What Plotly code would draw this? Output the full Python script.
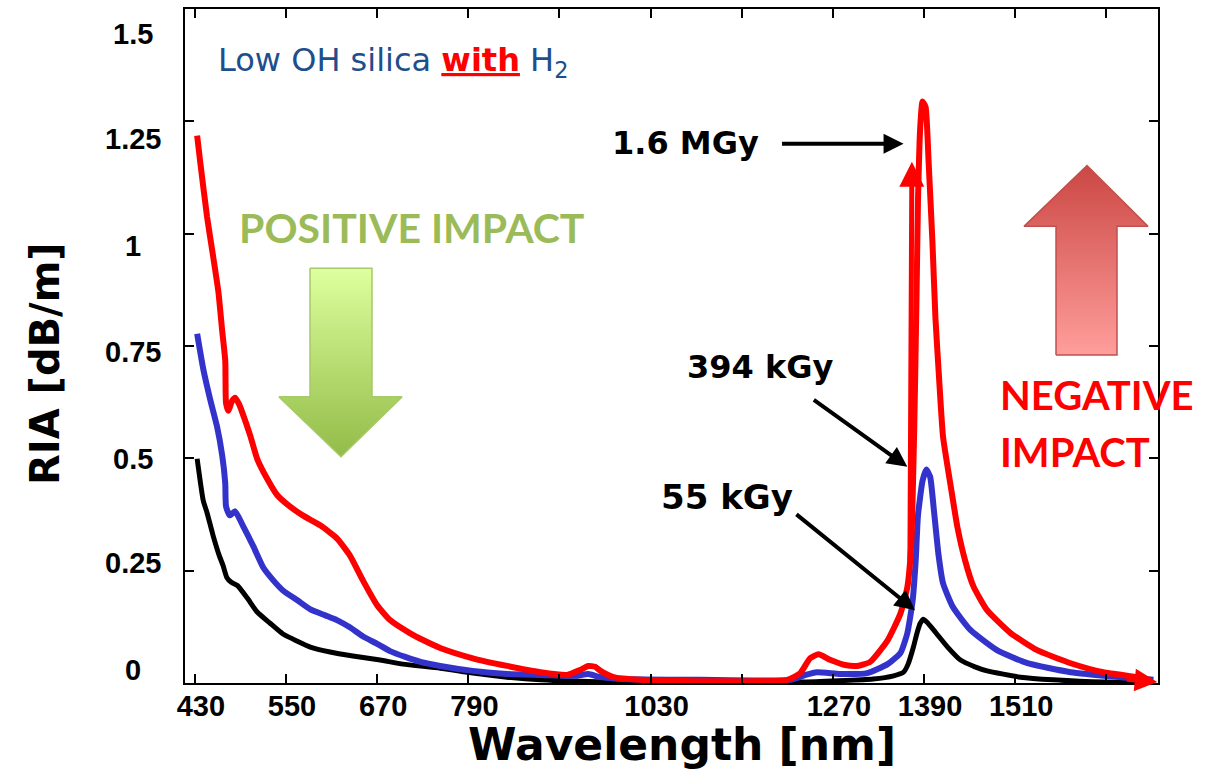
import plotly.graph_objects as go

# ---------------- data ----------------
wl_55k = [433, 441, 446, 454, 462, 467, 472, 478, 486, 499, 512, 529, 546, 565, 582, 608, 638, 674, 704, 753,
          796, 841, 885, 973, 1095, 1227, 1323, 1350, 1363, 1369, 1376, 1381, 1385, 1389, 1394, 1405, 1421, 1438,
          1457, 1473, 1517, 1560, 1626, 1675]
ria_55k = [0.499, 0.406, 0.379, 0.328, 0.284, 0.262, 0.235, 0.224, 0.217, 0.189, 0.158, 0.133, 0.109, 0.093,
           0.080, 0.069, 0.060, 0.051, 0.042, 0.033, 0.022, 0.013, 0.007, 0.002, 0.002, 0.002, 0.009, 0.016,
           0.024, 0.042, 0.080, 0.113, 0.133, 0.142, 0.135, 0.113, 0.080, 0.051, 0.036, 0.027, 0.013, 0.007,
           0.002, 0.002]

wl_394k = [433, 441, 450, 459, 466, 470, 471, 476, 483, 493, 507, 520, 533, 546, 565, 582, 601, 617, 634, 651,
           670, 687, 707, 727, 753, 796, 841, 885, 931, 948, 964, 990, 1095, 1214, 1234, 1249, 1280, 1315, 1342,
           1359, 1368, 1375, 1379, 1382, 1388, 1393, 1398, 1403, 1409, 1415, 1428, 1451, 1486, 1526, 1583, 1648,
           1692]
ria_394k = [0.777, 0.699, 0.632, 0.572, 0.506, 0.444, 0.393, 0.373, 0.382, 0.351, 0.304, 0.257, 0.229, 0.206,
            0.184, 0.164, 0.151, 0.140, 0.124, 0.104, 0.087, 0.071, 0.058, 0.047, 0.038, 0.027, 0.020, 0.018,
            0.016, 0.020, 0.013, 0.009, 0.007, 0.007, 0.018, 0.024, 0.020, 0.022, 0.042, 0.067, 0.111, 0.184,
            0.273, 0.373, 0.450, 0.475, 0.459, 0.384, 0.286, 0.222, 0.169, 0.118, 0.073, 0.044, 0.024, 0.013,
            0.007]

wl_16M = [433, 437, 446, 454, 461, 466, 470, 471, 474, 479, 483, 488, 492, 503, 512, 525, 538, 555, 572, 595,
          617, 634, 651, 670, 687, 713, 731, 753, 796, 841, 885, 920, 937, 948, 957, 964, 981, 1016, 1095, 1210,
          1227, 1240, 1251, 1267, 1286, 1302, 1319, 1342, 1359, 1368, 1373, 1377, 1380, 1382, 1385, 1388, 1392,
          1396, 1401, 1405, 1410, 1415, 1425, 1434, 1444, 1455, 1473, 1504, 1539, 1583, 1626, 1671, 1688]
ria_16M = [1.218, 1.160, 1.038, 0.950, 0.870, 0.783, 0.717, 0.623, 0.606, 0.628, 0.635, 0.621, 0.604, 0.550,
           0.499, 0.455, 0.419, 0.393, 0.373, 0.351, 0.322, 0.284, 0.229, 0.173, 0.140, 0.111, 0.095, 0.078,
           0.055, 0.038, 0.024, 0.018, 0.029, 0.038, 0.036, 0.027, 0.013, 0.007, 0.004, 0.007, 0.022, 0.055,
           0.064, 0.051, 0.040, 0.038, 0.047, 0.095, 0.155, 0.213, 0.306, 0.561, 0.850, 1.072, 1.238, 1.294,
           1.282, 1.160, 0.983, 0.812, 0.672, 0.548, 0.439, 0.346, 0.273, 0.215, 0.162, 0.111, 0.073, 0.044,
           0.024, 0.013, 0.007]

x_tick_vals = [430, 550, 670, 790, 910, 1030, 1150, 1270, 1390, 1510, 1630]
x_tick_text = ["430", "550", "670", "790", "", "1030", "", "1270", "1390", "1510", ""]
y_tick_vals = [0, 0.25, 0.5, 0.75, 1.0, 1.25]
y_label_text = ["0", "0.25", "0.5", "0.75", "1", "1.25", "1.5"]

# ---------------- layout geometry (pixels) ----------------
W, H = 1219, 770
L, R, T, B = 185, 1158, 7, 683


def px(x):
    return (x - L) / (R - L)


def py(y):
    return (B - y) / (B - T)


fig = go.Figure()

fig.add_trace(go.Scatter(x=wl_55k, y=ria_55k, mode="lines",
                         line=dict(color="#000000", width=5, shape="spline", smoothing=0.5),
                         name="55 kGy", hoverinfo="skip"))
fig.add_trace(go.Scatter(x=wl_394k, y=ria_394k, mode="lines",
                         line=dict(color="#3333CC", width=6, shape="spline", smoothing=0.5),
                         name="394 kGy", hoverinfo="skip"))
fig.add_trace(go.Scatter(x=wl_16M, y=ria_16M, mode="lines",
                         line=dict(color="#FF0000", width=6, shape="spline", smoothing=0.5),
                         name="1.6 MGy", hoverinfo="skip"))

# decorative block arrows on a pixel overlay
green_x = [310, 372, 372, 402, 341, 279, 310, 310]
green_y = [267, 267, 396, 396, 456, 396, 396, 267]
red_x = [1056, 1117, 1117, 1148, 1087, 1024, 1056, 1056]
red_y = [354, 354, 225, 225, 164, 225, 225, 354]

fig.add_trace(go.Scatter(x=green_x, y=green_y, xaxis="x2", yaxis="y2", mode="lines",
                         line=dict(color="#A6C96A", width=1.5), fill="toself",
                         fillgradient=dict(type="vertical",
                                           colorscale=[[0, "#92BC48"], [1, "#DEFF9E"]]),
                         hoverinfo="skip", showlegend=False))
fig.add_trace(go.Scatter(x=red_x, y=red_y, xaxis="x2", yaxis="y2", mode="lines",
                         line=dict(color="#C0504D", width=1.5), fill="toself",
                         fillgradient=dict(type="vertical",
                                           colorscale=[[0, "#FF9E9B"], [1, "#CB4744"]]),
                         hoverinfo="skip", showlegend=False))

ann = []
# y tick labels (centered, as in the original slide)
y_label_px = [670, 563, 458, 351, 245, 137, 32]
for t, yy in zip(y_label_text, y_label_px):
    ann.append(dict(text=t, xref="paper", yref="paper", x=px(133), y=py(yy), showarrow=False,
                    xanchor="center", yanchor="middle",
                    font=dict(family="Liberation Sans, Arial", size=29, color="black", weight="bold")))

# axis titles
ann.append(dict(text="Wavelength [nm]", xref="paper", yref="paper", x=px(682), y=py(745), showarrow=False,
                xanchor="center", yanchor="middle",
                font=dict(family="DejaVu Sans", size=44, color="black", weight="bold")))
ann.append(dict(text="RIA [dB/m]", xref="paper", yref="paper", x=px(45), y=py(363), showarrow=False,
                xanchor="center", yanchor="middle", textangle=-90,
                font=dict(family="DejaVu Sans", size=40, color="black", weight="bold")))

# titles/labels
ann.append(dict(text="Low OH silica <b><span style='color:#FF0000'><u>with</u></span></b> H<sub>2</sub>",
                xref="paper", yref="paper", x=px(216), y=py(60), showarrow=False,
                xanchor="left", yanchor="middle",
                font=dict(family="DejaVu Sans", size=32, color="#1F4E8C")))
ann.append(dict(text="POSITIVE IMPACT", xref="paper", yref="paper", x=px(237), y=py(226), showarrow=False,
                xanchor="left", yanchor="middle",
                font=dict(family="Lato", size=41, color="#9BBB59", weight="bold")))
ann.append(dict(text="NEGATIVE", xref="paper", yref="paper", x=px(998), y=py(394), showarrow=False,
                xanchor="left", yanchor="middle",
                font=dict(family="Lato", size=40, color="#FF0000", weight="bold")))
ann.append(dict(text="IMPACT", xref="paper", yref="paper", x=px(998), y=py(451), showarrow=False,
                xanchor="left", yanchor="middle",
                font=dict(family="Lato", size=40, color="#FF0000", weight="bold")))

dose_font = dict(family="DejaVu Sans", size=32, color="black", weight="bold")
ann.append(dict(text="1.6 MGy", xref="paper", yref="paper", x=px(685), y=py(141), showarrow=False,
                xanchor="center", yanchor="middle", font=dose_font))
ann.append(dict(text="394 kGy", xref="paper", yref="paper", x=px(760), y=py(366), showarrow=False,
                xanchor="center", yanchor="middle", font=dose_font))
ann.append(dict(text="55 kGy", xref="paper", yref="paper", x=px(727), y=py(496), showarrow=False,
                xanchor="center", yanchor="middle",
                font=dict(family="DejaVu Sans", size=34, color="black", weight="bold")))

# pointer arrows (tips in data coordinates, tails as pixel offsets)
arrow_common = dict(text="", showarrow=True, arrowhead=2, arrowsize=1, arrowwidth=4,
                    arrowcolor="black", xref="x", yref="y", standoff=0)
ann.append(dict(x=1363, y=1.200, ax=-123, ay=0, **arrow_common))
ann.append(dict(x=1368, y=0.481, ax=-95, ay=-68, **arrow_common))
ann.append(dict(x=1378, y=0.162, ax=-120, ay=-97, **arrow_common))
# red arrows belonging to the 1.6 MGy curve
ann.append(dict(text="", showarrow=True, arrowhead=2, arrowsize=1, arrowwidth=5, arrowcolor="#FF0000",
                xref="x", yref="y", x=1374, y=1.160, ax=-2, ay=400, standoff=0))
ann.append(dict(text="", showarrow=True, arrowhead=2, arrowsize=0.9, arrowwidth=5, arrowcolor="#FF0000",
                xref="x", yref="y", x=1697, y=0.002, ax=-32, ay=-3, standoff=0))

axis_line = dict(showline=True, linewidth=2, linecolor="black", mirror="ticks", ticks="inside",
                 ticklen=9, tickwidth=2, tickcolor="black", showgrid=False, zeroline=False)

fig.update_layout(
    width=W, height=H,
    margin=dict(l=L, r=W - R, t=T, b=H - B, pad=0),
    paper_bgcolor="white", plot_bgcolor="white",
    showlegend=False,
    xaxis=dict(range=[417, 1698], tickvals=x_tick_vals, ticktext=x_tick_text,
               tickfont=dict(family="Liberation Sans, Arial", size=29, color="black", weight="bold"),
               ticklabelstandoff=-4, ticklabelshift=6, **axis_line),
    yaxis=dict(range=[0, 1.5], tickvals=y_tick_vals, showticklabels=False, **axis_line),
    xaxis2=dict(overlaying="x", range=[L, R], visible=False, fixedrange=True),
    yaxis2=dict(overlaying="y", range=[B, T], visible=False, fixedrange=True),
    annotations=ann,
)

fig.write_html("out.html")
